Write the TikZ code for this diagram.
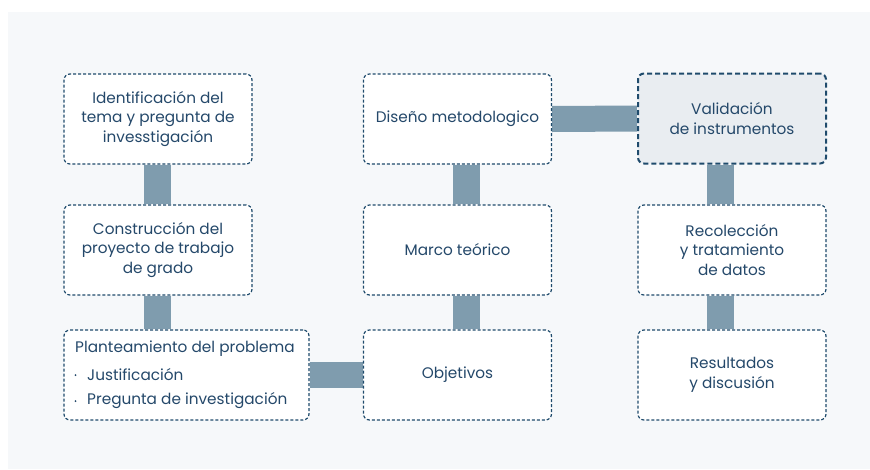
\documentclass[tikz,border=0pt]{standalone}
\usepackage{fontspec}
\setmainfont{Poppins}
\usetikzlibrary{backgrounds}
\definecolor{panel}{HTML}{F6F8FA}
\definecolor{bordc}{HTML}{1F4B6C}
\definecolor{txtc}{HTML}{24486A}
\definecolor{barc}{HTML}{7F9CAE}
\definecolor{valfill}{HTML}{E9EDF1}
\tikzset{
  stage/.style={draw=bordc, line width=1.2pt, dash pattern=on 3pt off 2pt, rounded corners=6pt,
    fill=white, text=txtc, align=center, font=\fontsize{15.3}{19.5}\selectfont,
    minimum width=188pt, minimum height=90pt, inner sep=0pt},
  highlight/.style={stage, fill=valfill, line width=2pt, dash pattern=on 5pt off 3pt},
  bar/.style={draw=barc, line width=27pt},
  hbar/.style={draw=barc, line width=26pt},
  plain/.style={text=txtc, font=\fontsize{15.3}{19.5}\selectfont, anchor=west, inner sep=0pt}
}
\begin{document}
\begin{tikzpicture}[x=1pt,y=-1pt]
\useasboundingbox (0,0) rectangle (870,469);

\node[stage] (ident) at (158,119) {Identificación del\\tema y pregunta de\\invesstigación};
\node[stage] (constr) at (158,250) {Construcción del\\proyecto de trabajo\\de grado};
\node[stage, minimum width=245pt] (plant) at (186.5,375) {};
\node[stage] (diseno) at (457.5,119) {Diseño metodologico};
\node[stage] (marco) at (457.5,250) {Marco teórico};
\node[stage] (obj) at (457.5,375) {Objetivos};
\node[highlight] (valid) at (732,118.5) {Validación\\de instrumentos};
\node[stage] (recol) at (732,250) {Recolección\\y tratamiento\\de datos};
\node[stage] (result) at (732,375) {Resultados\\y discusión};

\node[plain] (pl1) at (75,349) {Planteamiento del problema};
\node[plain] (pl2) at (87,375) {Justificación};
\node[plain] (pl3) at (87,401) {Pregunta de investigación};
\fill[txtc] (75.5,375) circle (1pt);
\fill[txtc] (75.5,401) circle (1pt);

\begin{scope}[on background layer]
\fill[white] (0,0) rectangle (870,469);
\fill[panel] (8,12) rectangle (870,469);
\draw[bar] ([xshift=-0.5pt]ident.south) -- ([xshift=-0.5pt]constr.north);
\draw[bar] ([xshift=-0.5pt]constr.south) -- ([xshift=-0.5pt]plant.north -| constr.south);
\draw[bar] ([xshift=8.5pt]diseno.south) -- ([xshift=8.5pt]marco.north);
\draw[bar] ([xshift=8.5pt]marco.south) -- ([xshift=8.5pt]obj.north);
\draw[bar] ([xshift=-12pt]valid.south) -- ([xshift=-12pt]recol.north);
\draw[bar] ([xshift=-12pt]recol.south) -- ([xshift=-12pt]result.north);
\draw[hbar] (diseno.east) -- (valid.west);
\draw[hbar] (plant.east) -- (obj.west);
\end{scope}
\end{tikzpicture}
\end{document}
